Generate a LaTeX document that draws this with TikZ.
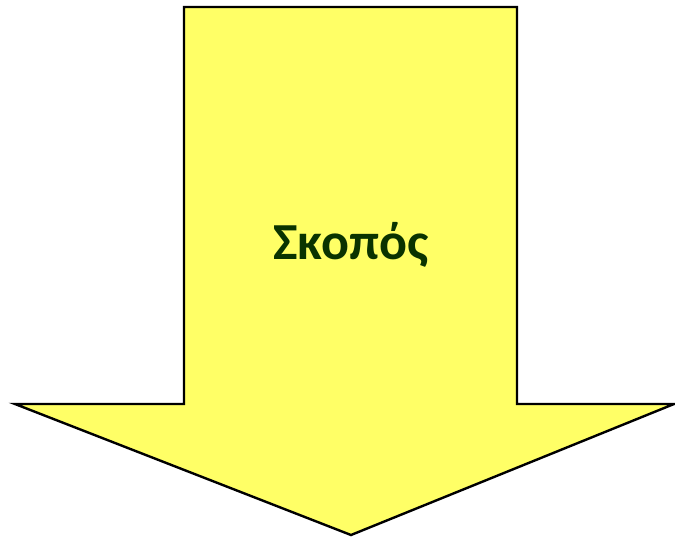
\documentclass[tikz,border=0pt]{standalone}
\usepackage{fontspec}
\setmainfont{Carlito}
\definecolor{arrowyellow}{HTML}{FFFF66}
\definecolor{textgreen}{HTML}{0A3300}
\begin{document}
\begin{tikzpicture}[x=1pt,y=-1pt,
  bigarrow/.style={draw=black,fill=arrowyellow,line width=2.4pt,line join=miter},
  label/.style={font=\fontsize{52}{60}\selectfont\bfseries,text=textgreen,inner sep=0pt}]
\useasboundingbox (0,0) rectangle (675,539);
\coordinate (sl) at (184,7);
\coordinate (sr) at (517,7);
\draw[bigarrow] (sl) -- (sr) -- (517,404) -- (674,404) -- (351,535) -- (15,404) -- (184,404) -- cycle;
\node[label] (t) at (351,245) {Σκοπός};
\end{tikzpicture}
\end{document}
